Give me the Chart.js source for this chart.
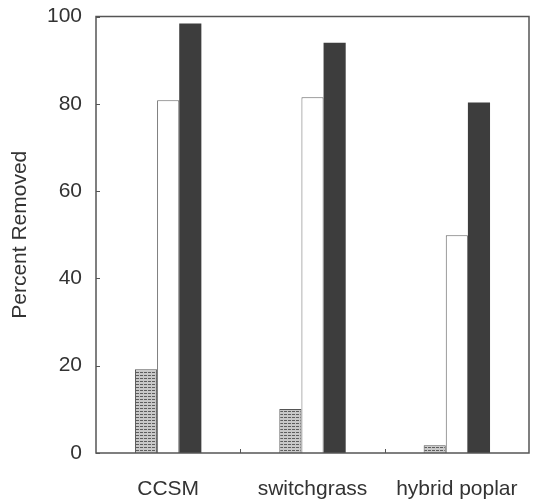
<!DOCTYPE html>
<html>
<head>
<meta charset="utf-8">
<script src="https://cdn.jsdelivr.net/npm/chart.js@4"></script>
<style>
  html, body { margin: 0; padding: 0; background: #fff; }
  #wrap { width: 536px; height: 502px; }
</style>
</head>
<body>
<div id="wrap"><canvas id="chart" width="536" height="502"></canvas></div>
<script>
const categories = ['CCSM', 'switchgrass', 'hybrid poplar'];
const hatchedValues = [19.2, 10.1, 1.8];
const openValues = [80.8, 81.5, 49.9];
const solidValues = [98.4, 94.0, 80.3];
const yTicks = [0, 20, 40, 60, 80, 100];

const ink = '#333';
const font = 'Liberation Sans, Arial, sans-serif';

// horizontal-line fill for the first series
function makeHatch() {
  const c = document.createElement('canvas');
  c.width = 4; c.height = 3;
  const g = c.getContext('2d');
  g.fillStyle = '#c8c8c8';
  g.fillRect(0, 0, 4, 3);
  g.fillStyle = '#5e5e5e';
  g.fillRect(0, 0, 3, 1);
  return g.createPattern(c, 'repeat');
}

// box frame plus inward tick marks
const framePlugin = {
  id: 'frame',
  afterDraw(chart) {
    const { ctx, chartArea: a, scales } = chart;
    ctx.save();
    ctx.strokeStyle = '#555';
    ctx.lineWidth = 1.5;
    ctx.strokeRect(a.left, a.top, a.right - a.left, a.bottom - a.top);
    ctx.lineWidth = 1;
    ctx.beginPath();
    scales.y.ticks.forEach(t => {
      const y = Math.round(scales.y.getPixelForValue(t.value)) + 0.5;
      ctx.moveTo(a.left, y);
      ctx.lineTo(a.left + 4, y);
    });
    for (let i = 0; i < categories.length - 1; i++) {
      const x = Math.round((scales.x.getPixelForTick(i) + scales.x.getPixelForTick(i + 1)) / 2) + 0.5;
      ctx.moveTo(x, a.bottom);
      ctx.lineTo(x, a.bottom - 4);
    }
    ctx.stroke();
    ctx.restore();
  },
};

new Chart(document.getElementById('chart'), {
  type: 'bar',
  data: {
    labels: categories,
    datasets: [
      {
        data: hatchedValues,
        backgroundColor: makeHatch(),
        borderColor: '#555',
        borderWidth: 1,
      },
      {
        data: openValues,
        backgroundColor: '#ffffff',
        borderColor: '#666',
        borderWidth: 1,
      },
      {
        data: solidValues,
        backgroundColor: '#3d3d3d',
        borderColor: '#3d3d3d',
        borderWidth: 0,
      },
    ],
  },
  options: {
    responsive: false,
    animation: false,
    layout: { padding: { top: 4, right: 7, left: 0, bottom: 0 } },
    datasets: { bar: { categoryPercentage: 0.46, barPercentage: 1.0 } },
    plugins: { legend: { display: false }, tooltip: { enabled: false } },
    scales: {
      x: {
        grid: { display: false },
        border: { display: false },
        ticks: { color: ink, font: { family: font, size: 21 }, padding: 16, maxRotation: 0 },
        afterFit: s => { s.height = 49; },
      },
      y: {
        min: 0, max: 100,
        afterBuildTicks: s => { s.ticks = yTicks.map(v => ({ value: v })); },
        grid: { display: false },
        border: { display: false },
        ticks: { color: ink, font: { family: font, size: 21, lineHeight: 1 }, padding: 6 },
        title: {
          display: true,
          text: 'Percent Removed',
          color: ink,
          font: { family: font, size: 21 },
          padding: { top: 8, bottom: 0 },
        },
        afterFit: s => { s.width = 96; },
      },
    },
  },
  plugins: [framePlugin],
});
</script>
</body>
</html>
